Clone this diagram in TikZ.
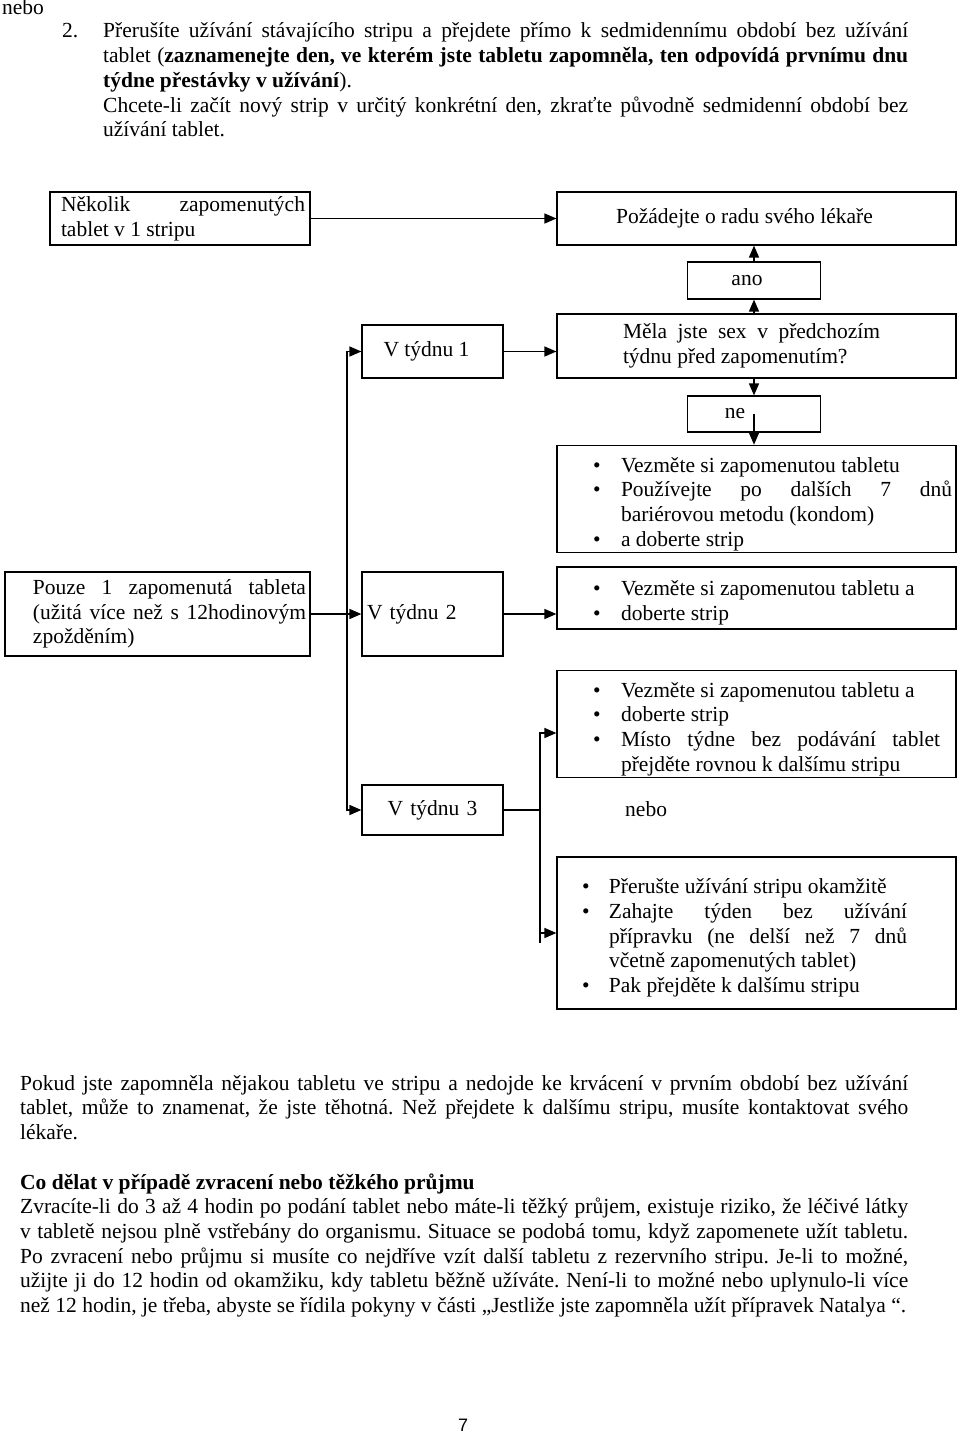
\documentclass[tikz,border=0pt]{standalone}
\usepackage{fontspec}
\setmainfont{Liberation Serif}
\newfontfamily\pagefont{Liberation Sans}
\usetikzlibrary{arrows.meta}
\frenchspacing
\newlength{\bindent}
% bullet line with hanging indent
\newcommand{\bitem}[1][28pt]{\par\noindent\setlength{\bindent}{#1}\hangindent=\bindent\hangafter=1\makebox[\bindent][l]{\textbullet}\ignorespaces}
% centred line, moved left by half of #1
\newcommand{\shiftc}[1]{\leftskip=0pt plus 1fil\rightskip=#1 plus 1fil\parfillskip=0pt\relax}

\begin{document}
\begin{tikzpicture}[x=1pt, y=-1pt,
    font = {\fontsize{21.5}{24.7}\selectfont},
    flowbox/.style = {draw, line width=1.2pt, inner xsep=4pt, inner ysep=2pt, align=justify},
    link/.style = {line width=1.5pt, -{Triangle[length=12pt,width=10pt]}},
    plain/.style = {line width=1.5pt}]
    \useasboundingbox (0,0) rectangle (960,1434);

    % text above the chart
    \node[anchor=base west, inner sep=0pt] (nebotop) at (2,15) {nebo};
    \node[anchor=base west, inner sep=0pt] (num) at (62,38) {2.};
    \node[anchor=base west, inner sep=0pt, text width=805pt, align=justify] (interrupt) at (103,38)
        {Přerušíte užívání stávajícího stripu a přejdete přímo k sedmidennímu období bez užívání\linebreak
         tablet (\textbf{zaznamenejte den, ve kterém jste tabletu zapomněla, ten odpovídá prvnímu dnu}\linebreak
         \textbf{týdne přestávky v užívání}).\par
         Chcete-li začít nový strip v určitý konkrétní den, zkraťte původně sedmidenní období bez\linebreak
         užívání tablet.};

    % chart
    \node[flowbox, minimum width=260pt, minimum height=53pt, text width=252pt] (several) at (180,218.5)
        {\leftskip=7pt\rightskip=1pt\relax Několik zapomenutých\linebreak tablet v 1 stripu\par};
    \node[flowbox, minimum width=399pt, minimum height=53pt, text width=391pt] (doctor) at (756.5,218.5)
        {\shiftc{24pt}Požádejte o radu svého lékaře\par};
    \node[flowbox, minimum width=133pt, minimum height=37pt, text width=125pt] (ano) at (754,280.5)
        {\shiftc{14pt}ano\par};
    \node[flowbox, minimum width=399pt, minimum height=64pt, text width=391pt] (question) at (756.5,346)
        {\leftskip=62pt\rightskip=72pt\relax Měla jste sex v předchozím\linebreak týdnu před zapomenutím?\par};
    \node[flowbox, minimum width=141pt, minimum height=53pt, text width=133pt] (week1) at (432.5,351.5)
        {\shiftc{12pt}V týdnu 1\par};
    \node[flowbox, minimum width=133pt, minimum height=36pt, text width=125pt] (ne) at (754,414)
        {\shiftc{38pt}ne\par};
    \node[flowbox, minimum width=399pt, minimum height=98pt, text width=391pt] (act1) at (756.5,499)
        {\leftskip=32pt\relax
         \bitem Vezměte si zapomenutou tabletu
         \bitem Používejte po dalších 7 dnů\linebreak bariérovou metodu (kondom)
         \bitem a doberte strip\par};
    \node[flowbox, minimum width=305pt, minimum height=84pt, text width=297pt] (single) at (157.5,614)
        {\leftskip=24pt\relax Pouze 1 zapomenutá tableta\linebreak (užitá více než s 12hodinovým\linebreak zpožděním)\par};
    \node[flowbox, minimum width=141pt, minimum height=84pt, text width=133pt, align=left] (week2) at (432.5,614)
        {\leftskip=1pt\relax V týdnu 2\par};
    \node[flowbox, minimum width=399pt, minimum height=62pt, text width=391pt] (act2) at (756.5,598)
        {\leftskip=32pt\relax
         \bitem Vezměte si zapomenutou tabletu a
         \bitem doberte strip\par};
    \node[flowbox, minimum width=399pt, minimum height=104pt, text width=391pt] (act3) at (756.5,724)
        {\leftskip=32pt\rightskip=12pt\relax
         \bitem Vezměte si zapomenutou tabletu a
         \bitem doberte strip
         \bitem Místo týdne bez podávání tablet\linebreak přejděte rovnou k dalšímu stripu\par};
    \node[flowbox, minimum width=141pt, minimum height=50pt, text width=133pt, align=center] (week3) at (432.5,810)
        {V týdnu 3};
    \node[anchor=base west, inner sep=0pt] (alt) at (625,816) {nebo};
    \node[flowbox, minimum width=399pt, minimum height=152pt, text width=391pt] (act4) at (756.5,933)
        {\leftskip=21pt\rightskip=45pt\relax
         \bitem[27pt] Přerušte užívání stripu okamžitě
         \bitem[27pt] Zahajte týden bez užívání\linebreak přípravku (ne delší než 7 dnů\linebreak včetně zapomenutých tablet)
         \bitem[27pt] Pak přejděte k dalšímu stripu\par};

    \coordinate (fork) at (347,614);
    \coordinate (fork3) at (540,810);
    \coordinate (tail) at (540,943);

    \draw[link] (several) -- (doctor);
    \draw[link] (ano |- question.north) -- (ano);
    \draw[link] (ano) -- (ano |- doctor.south);
    \draw[link] (week1) -- (week1 -| question.west);
    \draw[link] (ne |- question.south) -- (ne);
    \draw[link] (ne.center) -- (ne |- act1.north);
    \draw[link] (fork) |- (week1);
    \draw[link] (fork) |- (week3);
    \draw[link] (single) -- (week2);
    \draw[link] (week2) -- (week2 -| act2.west);
    \draw[plain] (week3) -- (fork3) -- (tail);
    \draw[link] (fork3) |- ([yshift=-9pt]act3.west);
    \draw[link] (fork3) |- (act4);

    % text below the chart
    \node[anchor=base west, inner sep=0pt, text width=888pt, align=justify] (notice) at (20,1090)
        {Pokud jste zapomněla nějakou tabletu ve stripu a nedojde ke krvácení v prvním období bez užívání\linebreak
         tablet, může to znamenat, že jste těhotná. Než přejdete k dalšímu stripu, musíte kontaktovat svého\linebreak
         lékaře.};
    \node[anchor=base west, inner sep=0pt, text width=888pt, align=justify] (vomit) at (20,1189)
        {\textbf{Co dělat v případě zvracení nebo těžkého průjmu}\par
         Zvracíte-li do 3 až 4 hodin po podání tablet nebo máte-li těžký průjem, existuje riziko, že léčivé látky\linebreak
         v tabletě nejsou plně vstřebány do organismu. Situace se podobá tomu, když zapomenete užít tabletu.\linebreak
         Po zvracení nebo průjmu si musíte co nejdříve vzít další tabletu z rezervního stripu. Je-li to možné,\linebreak
         užijte ji do 12 hodin od okamžiku, kdy tabletu běžně užíváte. Není-li to možné nebo uplynulo-li více\linebreak
         než 12 hodin, je třeba, abyste se řídila pokyny v části „Jestliže jste zapomněla užít přípravek Natalya “.};
    \node[font={\pagefont\fontsize{18}{22}\selectfont}] (page) at (463,1425) {7};
\end{tikzpicture}
\end{document}
